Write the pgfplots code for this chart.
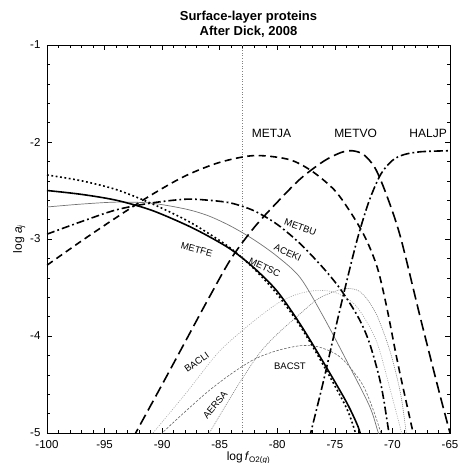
\documentclass[border=0pt]{standalone}
\usepackage{pgfplots}
\pgfplotsset{compat=1.18}
\usepackage{fontspec}
\setmainfont{Liberation Sans}
\setsansfont{Liberation Sans}
\begin{document}
\begin{tikzpicture}
\useasboundingbox (-47pt,-30pt) rectangle (412pt,433pt);
\begin{axis}[
  at={(0,0)}, anchor=south west,
  scale only axis, width=403pt, height=388pt,
  xmin=-100, xmax=-65, ymin=-5, ymax=-1,
  xtick={-100,-95,...,-65}, ytick={-5,-4,...,-1},
  minor x tick num=4, minor y tick num=4,
  tick align=inside, major tick length=5pt, minor tick length=3pt,
  every tick/.style={black, line width=0.5pt},
  axis line style={line width=0.8pt},
  /pgf/number format/assume math mode=true,
  ticklabel style={font=\fontsize{11.5}{12}\selectfont},
  xticklabel style={yshift=-4pt},
  yticklabel style={xshift=-3pt},
  xlabel={log\,\textit{f}\textsubscript{O2(\textit{g})}},
  ylabel={log \textit{a}\textsubscript{\textit{j}}},
  xlabel style={yshift=4pt},
  ylabel style={yshift=-2pt},
  label style={font=\fontsize{12}{13}\selectfont},
  title={Surface-layer proteins\\After Dick, 2008},
  title style={align=center, font=\fontsize{13}{15}\selectfont\bfseries, yshift=-2pt},
  clip=true,
]
% vertical reference line
\addplot[gray, dotted, line width=0.6pt] coordinates {(-83,-5) (-83,-1)};
% BACLI (thin light dotted)
\addplot[gray!70, line width=0.6pt, dash pattern=on 1pt off 1.3pt, smooth] coordinates {
(-91.2,-5.05) (-90.8,-5) (-88,-4.6) (-85.2,-4.18) (-83,-3.94) (-81,-3.75) (-79.5,-3.63) (-78,-3.56) (-76.5,-3.53) (-75,-3.55) (-73.5,-3.65) (-72.5,-3.80) (-71.3,-4.08) (-70.2,-4.55) (-69.2,-5.0) (-69.0,-5.1)};
% AERSA (thin dotted)
\addplot[gray, line width=0.6pt, dash pattern=on 1pt off 1pt, smooth] coordinates {
(-86.1,-5.05) (-85.9,-5) (-84.5,-4.72) (-83.1,-4.45) (-81.5,-4.17) (-80,-3.98) (-78.3,-3.80) (-76.5,-3.62) (-75,-3.54) (-74,-3.51) (-73,-3.53) (-72.2,-3.62) (-71.3,-3.80) (-70.2,-4.16) (-69.3,-4.59) (-68.8,-5.0) (-68.7,-5.1)};
% BACST (thin dashed)
\addplot[gray!80!black, line width=0.6pt, dash pattern=on 2.5pt off 1.5pt, smooth] coordinates {
(-90.3,-5.05) (-90,-5) (-88,-4.78) (-86,-4.57) (-84,-4.39) (-82,-4.24) (-80,-4.15) (-78,-4.10) (-76.5,-4.11) (-75,-4.18) (-74,-4.28) (-72.6,-4.50) (-71.7,-4.75) (-71.0,-5.0) (-70.8,-5.1)};
% ACEKI (thin solid)
\addplot[gray!90!black, line width=0.7pt, smooth] coordinates {
(-100,-2.67) (-97,-2.64) (-94,-2.62) (-91,-2.63) (-88,-2.69) (-86,-2.76) (-84,-2.87) (-82,-3.01) (-80,-3.18) (-78,-3.40) (-76,-3.80) (-74,-4.25) (-72,-4.72) (-71.3,-4.97) (-71,-5.08)};
% METFE (thick solid)
\addplot[black, line width=1.6pt, smooth] coordinates {
(-100,-2.50) (-97,-2.54) (-94,-2.60) (-91,-2.70) (-88,-2.85) (-86,-2.97) (-84,-3.11) (-82,-3.30) (-80,-3.54) (-78,-3.88) (-76,-4.27) (-74,-4.68) (-73,-4.93) (-72.7,-5.05)};
% METSC (thick dotted)
\addplot[black, line width=1.6pt, dash pattern=on 1.8pt off 2.6pt, smooth] coordinates {
(-100,-2.34) (-97,-2.40) (-94,-2.49) (-91,-2.63) (-88,-2.80) (-86,-2.94) (-84,-3.10) (-82,-3.31) (-80,-3.57) (-78,-3.90) (-76,-4.30) (-74,-4.74) (-73.2,-5.0) (-72.9,-5.1)};
% METBU (thick dash-dot)
\addplot[black, line width=1.6pt, dash pattern=on 8pt off 3pt on 1.8pt off 3pt, smooth] coordinates {
(-100,-2.95) (-97,-2.82) (-94,-2.70) (-91,-2.63) (-88,-2.59) (-86,-2.60) (-84,-2.63) (-82,-2.71) (-80,-2.85) (-78,-3.05) (-76,-3.30) (-74.5,-3.52) (-73,-3.80) (-72,-4.07) (-71,-4.50) (-70.3,-5.0) (-70.1,-5.15)};
% METJA (thick dashed)
\addplot[black, line width=1.6pt, dash pattern=on 7pt off 4.5pt, smooth] coordinates {
(-100,-3.27) (-97,-3.02) (-94,-2.78) (-91,-2.55) (-88,-2.35) (-85,-2.21) (-82,-2.14) (-79,-2.18) (-77,-2.30) (-75,-2.50) (-73.5,-2.75) (-72.3,-3.0) (-71.3,-3.3) (-70.5,-3.7) (-69.5,-4.3) (-68.2,-5.0) (-68,-5.1)};
% METVO (thick long dashed)
\addplot[black, line width=1.6pt, dash pattern=on 11pt off 5pt, smooth] coordinates {
(-92.5,-5.05) (-92.3,-5) (-90,-4.5) (-88,-4.06) (-86,-3.62) (-84,-3.20) (-82,-2.88) (-80,-2.62) (-78,-2.38) (-76,-2.20) (-74.5,-2.11) (-73.5,-2.09) (-72.5,-2.13) (-71.5,-2.27) (-70.5,-2.55) (-69.3,-2.98) (-67.6,-3.80) (-66,-4.55) (-65,-5)};
% HALJP (thick dash-dot)
\addplot[black, line width=1.6pt, dash pattern=on 9pt off 3pt on 1.8pt off 3pt, smooth] coordinates {
(-77.2,-5.05) (-77.1,-5) (-76,-4.47) (-75,-3.95) (-74,-3.45) (-73,-2.98) (-72,-2.60) (-71,-2.33) (-70,-2.19) (-69,-2.13) (-67.5,-2.10) (-65,-2.09)};
% labels
\node[font=\fontsize{12}{13}\selectfont] at (axis cs:-80.5,-1.91) {METJA};
\node[font=\fontsize{12}{13}\selectfont] at (axis cs:-73.2,-1.91) {METVO};
\node[font=\fontsize{12}{13}\selectfont] at (axis cs:-66.9,-1.91) {HALJP};
\node[font=\fontsize{9.5}{10}\selectfont, rotate=-20] at (axis cs:-78,-2.88) {METBU};
\node[font=\fontsize{9.5}{10}\selectfont, rotate=-25] at (axis cs:-79.1,-3.14) {ACEKI};
\node[font=\fontsize{9.5}{10}\selectfont, rotate=-25] at (axis cs:-81.1,-3.29) {METSC};
\node[font=\fontsize{9.5}{10}\selectfont, rotate=-15] at (axis cs:-87.0,-3.11) {METFE};
\node[font=\fontsize{9.5}{10}\selectfont, rotate=35] at (axis cs:-87.0,-4.27) {BACLI};
\node[font=\fontsize{9.5}{10}\selectfont, rotate=50] at (axis cs:-85.4,-4.71) {AERSA};
\node[font=\fontsize{9.5}{10}\selectfont] at (axis cs:-78.9,-4.31) {BACST};
\end{axis}
\end{tikzpicture}
\end{document}
